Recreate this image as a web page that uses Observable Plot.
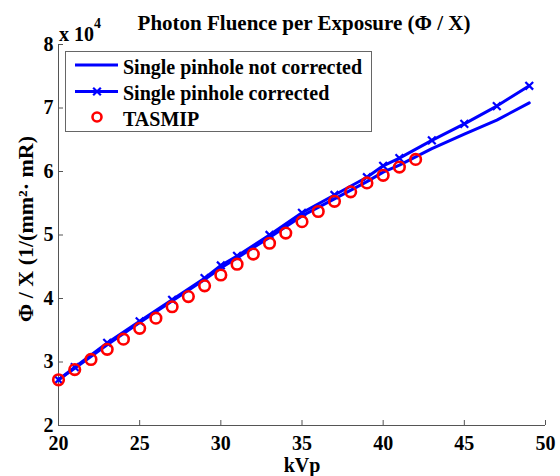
<!DOCTYPE html>
<html>
<head>
<meta charset="utf-8">
<script src="https://cdn.jsdelivr.net/npm/d3@7"></script>
<script src="https://cdn.jsdelivr.net/npm/@observablehq/plot@0.6"></script>
<style>
  body { margin: 0; background: #fff; }
  svg { display: block; }
</style>
</head>
<body>
<div id="chart"></div>
<script>
// Photon fluence per exposure (in units of 10^4 photons / (mm^2 · mR)) versus tube voltage
const kvpTasmip = [20, 21, 22, 23, 24, 25, 26, 27, 28, 29, 30, 31, 32, 33, 34, 35, 36, 37, 38, 39, 40, 41, 42];
const fluenceTasmip = [2.72, 2.88, 3.04, 3.20, 3.36, 3.53, 3.69, 3.87, 4.03, 4.20, 4.37, 4.54, 4.70, 4.87, 5.03, 5.21, 5.37, 5.53, 5.68, 5.82, 5.94, 6.07, 6.19];

const kvpPinhole = [20, 21, 23, 25, 27, 29, 30, 31, 33, 35, 37, 39, 40, 41, 43, 45, 47, 49];
const fluenceNotCorrected = [2.72, 2.90, 3.27, 3.62, 3.96, 4.30, 4.48, 4.64, 4.96, 5.30, 5.57, 5.84, 5.99, 6.10, 6.36, 6.59, 6.81, 7.08];
const fluenceCorrected = [2.72, 2.92, 3.30, 3.64, 3.98, 4.32, 4.52, 4.67, 5.00, 5.35, 5.63, 5.91, 6.09, 6.21, 6.49, 6.75, 7.03, 7.35];

const xTicks = [20, 25, 30, 35, 40, 45, 50];
const yTicks = [2, 3, 4, 5, 6, 7, 8];

const seriesNames = ["Single pinhole not corrected", "Single pinhole corrected", "TASMIP"];
const titleText = "Photon Fluence per Exposure (\u03A6 / X)";
const xLabel = "kVp";
const yLabel = "\u03A6 / X (1/(mm\u00B2\u00B7 mR)";
const exponentBase = "x 10";
const exponent = "4";

const notCorrected = kvpPinhole.map((k, i) => ({kvp: k, value: fluenceNotCorrected[i]}));
const corrected = kvpPinhole.map((k, i) => ({kvp: k, value: fluenceCorrected[i]}));
const tasmip = kvpTasmip.map((k, i) => ({kvp: k, value: fluenceTasmip[i]}));

const blue = "#0000ff";
const red = "#ff0000";
const axisColor = "#555";
const font = "'Liberation Serif', 'Times New Roman', serif";

const chart = Plot.plot({
  width: 560,
  height: 476,
  marginLeft: 58,
  marginRight: 15,
  marginTop: 44,
  marginBottom: 51,
  style: {fontFamily: font, fontWeight: "bold", fontSize: "20px", color: "#000", background: "#fff"},
  x: {domain: [xTicks[0], xTicks[xTicks.length - 1]]},
  y: {domain: [yTicks[0], yTicks[yTicks.length - 1]]},
  marks: [
    Plot.ruleY([yTicks[0]], {stroke: axisColor}),
    Plot.ruleX([xTicks[0]], {stroke: axisColor}),
    Plot.axisX(xTicks, {anchor: "bottom", tickSize: -5, tickPadding: 15, stroke: axisColor, fill: "#000", fontSize: 20, tickFormat: d3.format("d"), label: null}),
    Plot.axisY(yTicks, {anchor: "left", tickSize: -5, tickPadding: 10, stroke: axisColor, fill: "#000", fontSize: 20, tickFormat: d3.format("d"), label: null}),
    Plot.line(notCorrected, {x: "kvp", y: "value", stroke: blue, strokeWidth: 3}),
    Plot.line(corrected, {x: "kvp", y: "value", stroke: blue, strokeWidth: 3}),
    Plot.dot(corrected, {x: "kvp", y: "value", symbol: "times", r: 3.6, stroke: blue, strokeWidth: 2.2}),
    Plot.dot(tasmip, {x: "kvp", y: "value", r: 5.3, stroke: red, strokeWidth: 2.6, fill: "none"}),
    Plot.text([titleText], {frameAnchor: "top", lineAnchor: "middle", dx: 2, dy: -21, text: d => d, fontSize: 21, fill: "#000"}),
    Plot.text([xLabel], {frameAnchor: "bottom", lineAnchor: "middle", dy: 40.5, text: d => d, fontSize: 20, fill: "#000"}),
    Plot.text([yLabel], {frameAnchor: "left", lineAnchor: "middle", dx: -33, dy: -6, rotate: -90, textAnchor: "middle", text: d => d, fontSize: 22, fill: "#000"})
  ]
});

document.getElementById("chart").append(chart);

// Exponent multiplier above the y axis and the legend box
const svg = d3.select(chart);

const mult = svg.append("text")
  .attr("x", 59).attr("y", 41)
  .attr("text-anchor", "start")
  .attr("font-family", font).attr("font-weight", "bold").attr("font-size", 20)
  .attr("fill", "#000");
mult.append("tspan").text(exponentBase);
mult.append("tspan").attr("dy", -13).attr("font-size", 14).text(exponent);

const legend = svg.append("g")
  .attr("font-family", font).attr("font-weight", "bold").attr("font-size", 20)
  .attr("text-anchor", "start");
legend.append("rect")
  .attr("x", 65.5).attr("y", 51.5).attr("width", 306).attr("height", 80)
  .attr("fill", "#fff").attr("stroke", "#666").attr("stroke-width", 1);

const rowY = [65, 91.5, 117];
seriesNames.forEach((name, i) => {
  const y = rowY[i];
  if (i < 2) {
    legend.append("line").attr("x1", 75).attr("x2", 118).attr("y1", y).attr("y2", y)
      .attr("stroke", blue).attr("stroke-width", 3);
  }
  if (i === 1) {
    legend.append("path").attr("d", d3.symbol(d3.symbolTimes, 40)()).attr("transform", `translate(97,${y})`)
      .attr("stroke", blue).attr("stroke-width", 2.2).attr("fill", "none");
  }
  if (i === 2) {
    legend.append("circle").attr("cx", 97).attr("cy", y).attr("r", 4.5)
      .attr("stroke", red).attr("stroke-width", 2.6).attr("fill", "none");
  }
  legend.append("text").attr("x", 123).attr("y", y + 1.5).attr("dy", "0.35em").attr("fill", "#000").text(name);
});
</script>
</body>
</html>
